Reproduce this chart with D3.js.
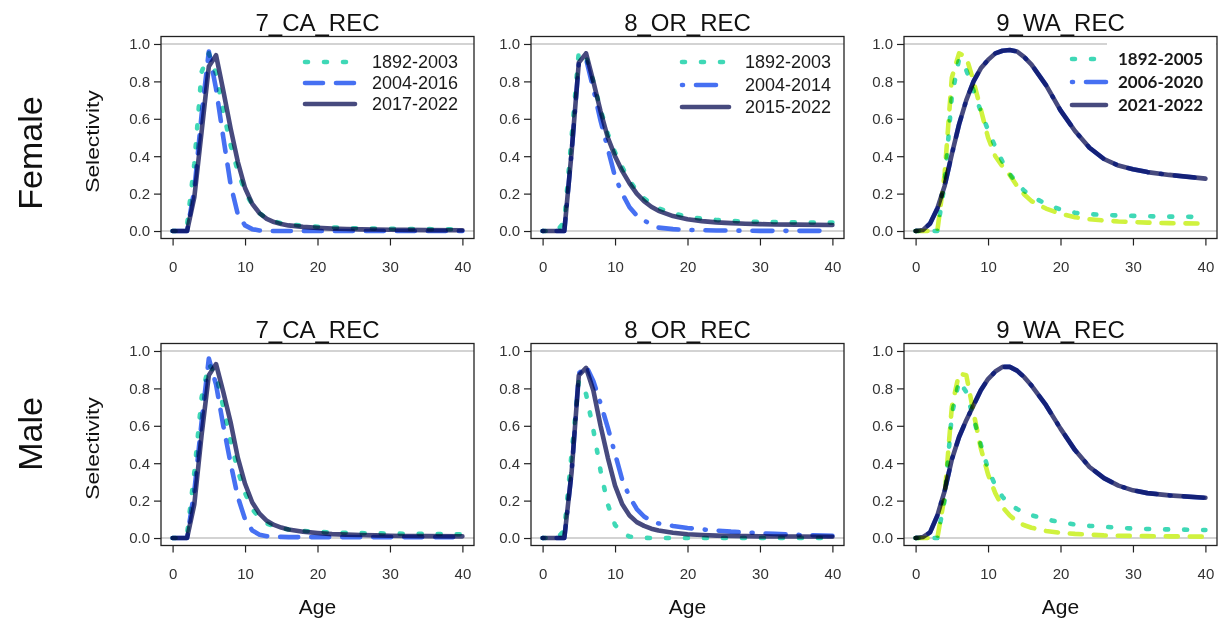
<!DOCTYPE html>
<html>
<head>
<meta charset="utf-8">
<script src="https://cdn.jsdelivr.net/npm/d3@7"></script>
<style>
  body { margin: 0; background: #fff; }
  svg { display: block; font-family: "Liberation Sans", Arial, sans-serif; }
</style>
</head>
<body>
<svg id="chart" width="1219" height="620"></svg>
<script>
// ages sampled (years)
const ages = [0,1,2,3,4,5,6,7,8,9,10,11,12,13,14,15,16,18,20,22,24,26,28,30,32,35,40];
const yTicks = [0, 0.2, 0.4, 0.6, 0.8, 1.0];
const xTicks = [0, 10, 20, 30, 40];
const titles = ["7_CA_REC", "8_OR_REC", "9_WA_REC"];
const sexes = ["Female", "Male"];

const legend7 = ["1892-2003", "2004-2016", "2017-2022"];
const legend8 = ["1892-2003", "2004-2014", "2015-2022"];
const legend9 = ["1892-2005", "2006-2020", "2021-2022"];

// Female
const fCa1892 = [0,0,0.03,0.36,0.85,0.95,0.84,0.64,0.46,0.32,0.21,0.14,0.095,0.068,0.052,0.042,0.036,0.028,0.023,0.019,0.016,0.014,0.013,0.012,0.011,0.010,0.009];
const fCa2004 = [0,0,0,0.22,0.62,0.96,0.76,0.50,0.25,0.09,0.03,0.01,0.003,0.001,0,0,0,0,0,0,0,0,0,0,0,0,0];
const fCa2017 = [0,0,0,0.18,0.53,0.88,0.94,0.75,0.55,0.37,0.23,0.145,0.095,0.065,0.048,0.037,0.030,0.022,0.017,0.013,0.011,0.009,0.008,0.007,0.006,0.005,0.004];

const fOr1892 = [0,0,0,0.05,0.50,0.96,0.93,0.80,0.65,0.52,0.42,0.34,0.27,0.215,0.175,0.145,0.122,0.094,0.077,0.066,0.059,0.054,0.051,0.049,0.048,0.046,0.045];
const fOr2004 = [0,0,0,0,0.42,0.90,0.92,0.76,0.59,0.44,0.29,0.20,0.127,0.082,0.056,0.036,0.018,0.010,0.006,0.004,0.003,0.002,0.002,0.001,0.001,0.001,0.001];
const fOr2015 = [0,0,0,0,0.42,0.90,0.95,0.80,0.64,0.50,0.40,0.32,0.255,0.20,0.16,0.13,0.108,0.080,0.063,0.053,0.046,0.042,0.039,0.037,0.035,0.034,0.032];

const fWaLime = [0,0,0,0,0.30,0.82,0.95,0.93,0.80,0.65,0.50,0.40,0.345,0.30,0.24,0.195,0.16,0.12,0.092,0.074,0.063,0.056,0.051,0.048,0.045,0.042,0.040];
const fWa1892 = [0,0,0,0,0.25,0.72,0.92,0.86,0.75,0.64,0.54,0.45,0.37,0.305,0.255,0.215,0.185,0.145,0.115,0.098,0.090,0.086,0.083,0.081,0.079,0.077,0.075];
const fWa2006 = [0,0.005,0.04,0.12,0.24,0.41,0.57,0.70,0.80,0.87,0.915,0.95,0.964,0.968,0.96,0.93,0.89,0.78,0.645,0.535,0.445,0.385,0.35,0.33,0.315,0.30,0.28];
const fWa2021 = [0,0.005,0.04,0.12,0.24,0.41,0.57,0.70,0.80,0.87,0.915,0.95,0.964,0.968,0.96,0.93,0.89,0.78,0.645,0.535,0.445,0.385,0.35,0.33,0.315,0.30,0.28];

// Male
const mCa1892 = [0,0,0.02,0.35,0.75,0.93,0.87,0.70,0.52,0.36,0.24,0.155,0.105,0.078,0.062,0.052,0.046,0.038,0.033,0.030,0.028,0.026,0.025,0.024,0.023,0.022,0.020];
const mCa2004 = [0,0,0,0.25,0.62,0.96,0.82,0.60,0.40,0.22,0.10,0.04,0.018,0.010,0.007,0.006,0.005,0.005,0.005,0.005,0.005,0.005,0.005,0.005,0.005,0.005,0.005];
const mCa2017 = [0,0,0,0.18,0.55,0.87,0.93,0.78,0.62,0.43,0.29,0.19,0.13,0.092,0.070,0.056,0.046,0.034,0.027,0.021,0.018,0.016,0.014,0.012,0.011,0.010,0.009];

const mOr1892 = [0,0,0,0.04,0.45,0.84,0.77,0.58,0.36,0.18,0.07,0.025,0.008,0.003,0.001,0,0,0,0,0,0,0,0,0,0,0,0];
const mOr2004 = [0,0,0,0,0.35,0.88,0.92,0.84,0.72,0.59,0.45,0.31,0.22,0.155,0.115,0.092,0.078,0.064,0.054,0.046,0.040,0.034,0.030,0.026,0.022,0.017,0.012];
const mOr2015 = [0,0,0,0,0.35,0.87,0.91,0.79,0.60,0.43,0.28,0.18,0.12,0.085,0.065,0.050,0.040,0.028,0.020,0.016,0.013,0.011,0.010,0.009,0.008,0.008,0.007];

const mWaLime = [0,0,0,0,0.22,0.70,0.88,0.87,0.67,0.48,0.34,0.24,0.165,0.12,0.088,0.068,0.055,0.038,0.028,0.022,0.018,0.014,0.012,0.011,0.010,0.009,0.007];
const mWa1892 = [0,0,0,0,0.20,0.66,0.84,0.78,0.64,0.50,0.37,0.28,0.22,0.18,0.155,0.135,0.122,0.10,0.085,0.072,0.065,0.060,0.055,0.051,0.048,0.046,0.043];
const mWa2006 = [0,0.005,0.03,0.12,0.25,0.42,0.54,0.63,0.71,0.79,0.85,0.89,0.915,0.915,0.895,0.86,0.815,0.71,0.585,0.47,0.38,0.32,0.28,0.255,0.24,0.228,0.215];
const mWa2021 = [0,0.005,0.03,0.12,0.25,0.42,0.54,0.63,0.71,0.79,0.85,0.89,0.915,0.915,0.895,0.86,0.815,0.71,0.585,0.47,0.38,0.32,0.28,0.255,0.24,0.228,0.215];

// line styles
const teal = { color: "#3fd8b6", dash: "3,16" };
const blueDash = { color: "#4670f2", dash: "18,13" };
const blueDotDash = { color: "#4670f2", dash: "1,13,20,13" };
const lime = { color: "#d0f23e", dash: "12,12" };
const slate = { color: "#474a7e", dash: null };

const panels = [
  { row: 0, col: 0, series: [[fCa1892, teal], [fCa2004, blueDash], [fCa2017, slate]],
    legend: { labels: legend7, styles: [teal, blueDash, slate], x1: 144, x2: 194, tx: 211, ys: [62, 83, 104], bold: false } },
  { row: 0, col: 1, series: [[fOr1892, teal], [fOr2004, blueDotDash], [fOr2015, slate]],
    legend: { labels: legend8, styles: [teal, blueDotDash, slate], x1: 151, x2: 198, tx: 214, ys: [62, 85, 107], bold: false } },
  { row: 0, col: 2, series: [[fWaLime, lime], [fWa1892, teal], [fWa2021, slate], [fWa2006, blueDotDash]],
    legend: { labels: legend9, styles: [teal, blueDotDash, slate], x1: 168, x2: 202, tx: 214, ys: [59, 82, 105], bold: true } },
  { row: 1, col: 0, series: [[mCa1892, teal], [mCa2004, blueDash], [mCa2017, slate]] },
  { row: 1, col: 1, series: [[mOr1892, teal], [mOr2004, blueDotDash], [mOr2015, slate]] },
  { row: 1, col: 2, series: [[mWaLime, lime], [mWa1892, teal], [mWa2021, slate], [mWa2006, blueDotDash]] }
];

const colLeft = [161, 531, 904];
const rowTop = [36.5, 343.5];
const pw = 313, ph = 202;

const svg = d3.select("#chart");

panels.forEach(function (p) {
  const left = colLeft[p.col], top = rowTop[p.row];
  const x = d3.scaleLinear().domain([-1.6, 41.6]).range([left, left + pw]);
  const y = d3.scaleLinear().domain([-0.04, 1.04]).range([top + ph, top]);
  const g = svg.append("g");

  // reference lines at 0 and 1
  g.selectAll(".ref").data([0, 1]).enter().append("line")
    .attr("x1", left).attr("x2", left + pw)
    .attr("y1", d => y(d)).attr("y2", d => y(d))
    .attr("stroke", "#c4c4c4").attr("stroke-width", 1.6);

  const line = d3.line().x((d, i) => x(ages[i])).y(d => y(d));
  const lines = g.append("g").style("isolation", "isolate");
  p.series.forEach(function (s) {
    lines.append("path")
      .datum(s[0])
      .attr("d", line)
      .attr("fill", "none")
      .attr("stroke", s[1].color)
      .attr("stroke-width", 4.6)
      .attr("stroke-linecap", "round")
      .attr("stroke-linejoin", "round")
      .attr("stroke-dasharray", s[1].dash)
      .style("mix-blend-mode", "multiply");
  });

  if (p.legend) {
    const L = p.legend;
    if (L.bold) {
      g.append("rect").attr("x", left + 203).attr("y", top + 2)
        .attr("width", pw - 204).attr("height", 76).attr("fill", "#fff");
    }
    L.labels.forEach(function (lab, i) {
      g.append("line")
        .attr("x1", left + L.x1).attr("x2", left + L.x2)
        .attr("y1", L.ys[i]).attr("y2", L.ys[i])
        .attr("stroke", L.styles[i].color)
        .attr("stroke-width", 4.6)
        .attr("stroke-linecap", "round")
        .attr("stroke-dasharray", L.styles[i].dash);
      g.append("text")
        .attr("x", left + L.tx).attr("y", L.ys[i] + 6)
        .style("font-family", L.bold ? "Lato, 'Liberation Sans', sans-serif" : null)
        .style("font-weight", L.bold ? "bold" : null)
        .style("font-size", L.bold ? "17px" : "18px")
        .attr("fill", "#1a1a1a")
        .text(lab);
    });
  }

  // frame
  g.append("rect").attr("x", left).attr("y", top).attr("width", pw).attr("height", ph)
    .attr("fill", "none").attr("stroke", "#222").attr("stroke-width", 1.3);

  // axes
  const ax = g.append("g").attr("transform", "translate(0," + (top + ph) + ")")
    .call(d3.axisBottom(x).tickValues(xTicks).tickSize(7).tickPadding(16));
  const ay = g.append("g").attr("transform", "translate(" + left + ",0)")
    .call(d3.axisLeft(y).tickValues(yTicks).tickFormat(d3.format(".1f")).tickSize(7).tickPadding(4));
  [ax, ay].forEach(function (a) {
    a.select(".domain").remove();
    a.selectAll("line").attr("stroke", "#222").attr("stroke-width", 1.2);
    a.selectAll("text").attr("fill", "#333").style("font-size", "15px")
      .style("font-family", "'Liberation Sans', Arial, sans-serif");
  });

  // title
  g.append("text").attr("x", left + pw / 2).attr("y", top - 6)
    .attr("text-anchor", "middle").style("font-size", "24px").attr("fill", "#111")
    .text(titles[p.col]);

  // x label
  if (p.row === 1) {
    g.append("text").attr("x", left + pw / 2).attr("y", 614)
      .attr("text-anchor", "middle").style("font-size", "21px").attr("fill", "#111")
      .text("Age");
  }
  // y label
  if (p.col === 0) {
    g.append("text")
      .attr("transform", "translate(99," + (top + ph / 2 + 4) + ") rotate(-90) scale(1.2,1)")
      .attr("text-anchor", "middle").style("font-size", "19px").attr("fill", "#111")
      .text("Selectivity");
  }
});

// row labels
const rowLabelY = [153, 434];
sexes.forEach(function (s, i) {
  svg.append("text")
    .attr("transform", "translate(42," + rowLabelY[i] + ") rotate(-90)")
    .attr("text-anchor", "middle").style("font-size", "34px").attr("fill", "#111")
    .text(s);
});
</script>
</body>
</html>
